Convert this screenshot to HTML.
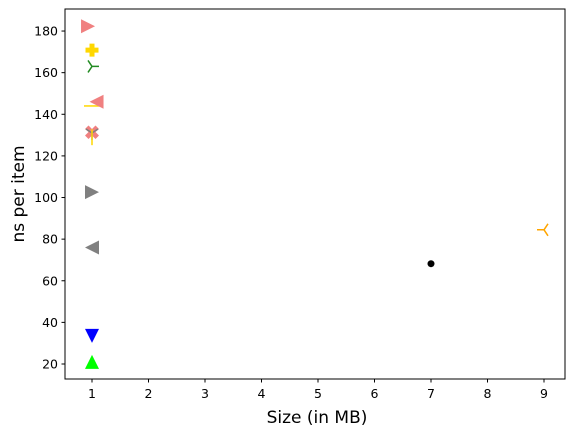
<!DOCTYPE html>
<html><head><meta charset="utf-8"><style>
body{margin:0;background:#fff;}
svg text{font-family:"DejaVu Sans","Liberation Sans",sans-serif;}
</style></head><body>
<svg id="chart" width="575" height="436" xmlns="http://www.w3.org/2000/svg">
<rect x="0" y="0" width="575" height="436" fill="#fff"/>
<g id="marks"></g>
<rect x="65" y="9" width="500" height="370" fill="none" stroke="#000" stroke-width="1"/>
<g id="axes"></g>
<text x="317" y="423" font-size="17" text-anchor="middle">Size (in MB)</text>
<text transform="translate(24,194) rotate(-90)" font-size="17" text-anchor="middle">ns per item</text>
</svg>
<script>
const xs=[0.93,1,1,1,1.08,1,1,1,1,1,1,1,7,9];
const ys=[182.3,170.8,163,144,146,131.5,131,129,102.6,76,33.5,21,68.2,84.5];
const kinds=['tri-right','plus','tri4','hline','tri-left','x','tri1','vline','tri-right','tri-left','tri-down','tri-up','dot','tri3'];
const colors=['#f08080','#ffd700','#228b22','#ffd700','#f08080','#f08080','#808080','#ffd700','#808080','#808080','#0000ff','#00ff00','#000000','#ffa500'];
const xTicks=[1,2,3,4,5,6,7,8,9];
const yTicks=[20,40,60,80,100,120,140,160,180];
const X=v=>92+(v-1)*56.5;
const Y=v=>364-(v-20)*2.081;
const NS='http://www.w3.org/2000/svg';
const marks=document.getElementById('marks'),axes=document.getElementById('axes');
function mk(t,a,p){const e=document.createElementNS(NS,t);for(const k in a)e.setAttribute(k,a[k]);p.appendChild(e);return e;}
xs.forEach((xv,i)=>{
 const cx=X(xv),cy=Y(ys[i]),c=colors[i],k=kinds[i];let e;
 const s=7;
 if(k==='tri-right')e=mk('polygon',{points:`${cx+s},${cy} ${cx-s},${cy-s} ${cx-s},${cy+s}`,fill:c},marks);
 else if(k==='tri-left')e=mk('polygon',{points:`${cx-s},${cy} ${cx+s},${cy-s} ${cx+s},${cy+s}`,fill:c},marks);
 else if(k==='tri-down')e=mk('polygon',{points:`${cx},${cy+s} ${cx-s},${cy-s} ${cx+s},${cy-s}`,fill:c},marks);
 else if(k==='tri-up')e=mk('polygon',{points:`${cx},${cy-s} ${cx-s},${cy+s} ${cx+s},${cy+s}`,fill:c},marks);
 else if(k==='plus')e=mk('path',{d:`M${cx-6.5},${cy-2.5}h4v-4h5v4h4v5h-4v4h-5v-4h-4z`,fill:c},marks);
 else if(k==='x')e=mk('path',{d:`M${cx},${cy}m-7,-3l3.5,-3.5l3.5,3.5l3.5,-3.5l3.5,3.5l-3.5,3l3.5,3.5l-3.5,3.5l-3.5,-3.5l-3.5,3.5l-3.5,-3.5l3.5,-3.5z`,fill:c},marks);
 else if(k==='dot')e=mk('circle',{cx:cx,cy:cy,r:3.5,fill:c},marks);
 else if(k==='hline')e=mk('path',{d:`M${cx-8},${cy}h16`,stroke:c,'stroke-width':1.5,fill:'none'},marks);
 else if(k==='vline')e=mk('path',{d:`M${cx},${cy-8}v16`,stroke:c,'stroke-width':1.5,fill:'none'},marks);
 else if(k==='tri4')e=mk('path',{d:`M${cx},${cy}h7M${cx},${cy}l-4,-6M${cx},${cy}l-4,6`,stroke:c,'stroke-width':1.5,fill:'none'},marks);
 else if(k==='tri3')e=mk('path',{d:`M${cx},${cy}h-7M${cx},${cy}l4,-6M${cx},${cy}l4,6`,stroke:c,'stroke-width':1.5,fill:'none'},marks);
 else if(k==='tri1')e=mk('path',{d:`M${cx},${cy}v7M${cx},${cy}l-6,-4M${cx},${cy}l6,-4`,stroke:c,'stroke-width':1.5,fill:'none'},marks);
 
 
});
xTicks.forEach(v=>{const x=X(v);
 const l=mk('line',{x1:x,x2:x,y1:379,y2:382.5,stroke:'#000'},axes);
 
 
 const t=mk('text',{x:x,y:398,'font-size':12.5,'text-anchor':'middle'},axes);t.textContent=v;
 
 
});
yTicks.forEach(v=>{const y=Y(v);
 const l=mk('line',{x1:61.5,x2:65,y1:y,y2:y,stroke:'#000'},axes);
 
 
 const t=mk('text',{x:58,y:y+4.5,'font-size':12.5,'text-anchor':'end'},axes);t.textContent=v;
 
 
});
</script>
</body></html>
